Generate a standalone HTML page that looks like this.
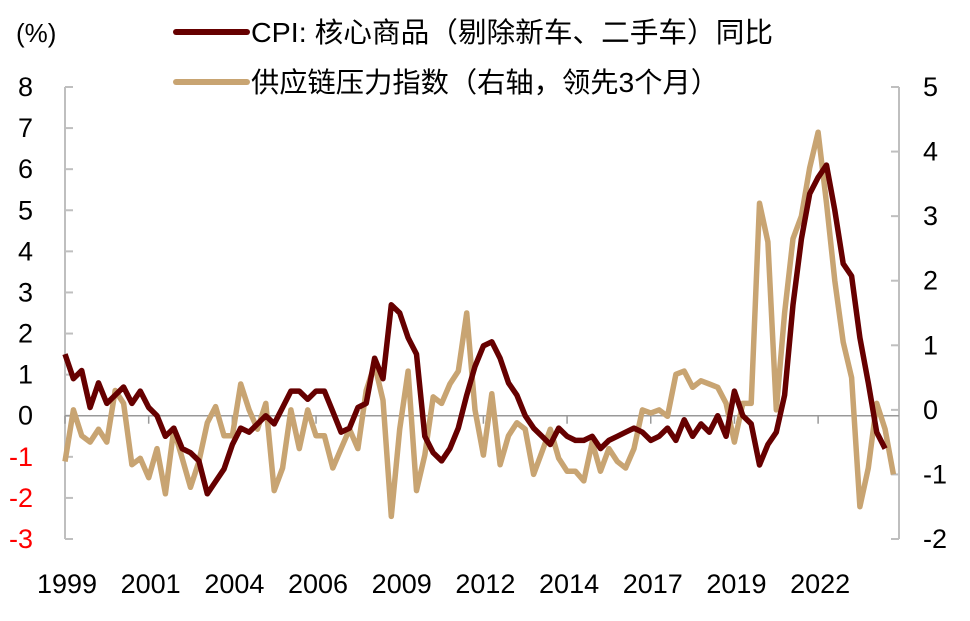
<!DOCTYPE html>
<html><head><meta charset="utf-8"><style>
body{margin:0;background:#fff;}
svg text{font-family:"Liberation Sans","Noto Sans CJK SC",sans-serif;}
</style></head><body>
<svg id="chart" width="970" height="616" viewBox="0 0 970 616" xmlns="http://www.w3.org/2000/svg">
<g id="axes"></g>
<g id="series"></g>
<g>
<text x="16" y="42" font-size="26">(%)</text>
<line x1="176" y1="32" x2="247" y2="32" stroke="#660000" stroke-width="6" stroke-linecap="round"/>
<text x="251" y="42" font-size="28" textLength="522" lengthAdjust="spacingAndGlyphs">CPI: 核心商品（剔除新车、二手车）同比</text>
<line x1="176" y1="82" x2="247" y2="82" stroke="#c8a472" stroke-width="6" stroke-linecap="round"/>
<text x="251" y="92" font-size="28" textLength="468" lengthAdjust="spacingAndGlyphs">供应链压力指数（右轴，领先3个月）</text>
</g>
</svg>
<script>
const cpiValues=[1.5,0.9,1.1,0.2,0.8,0.3,0.5,0.7,0.3,0.6,0.2,0.0,-0.5,-0.3,-0.8,-0.9,-1.1,-1.9,-1.6,-1.3,-0.7,-0.3,-0.4,-0.2,0.0,-0.2,0.2,0.6,0.6,0.4,0.6,0.6,0.1,-0.4,-0.3,0.2,0.3,1.4,0.9,2.7,2.5,1.9,1.5,-0.5,-0.9,-1.1,-0.8,-0.3,0.5,1.2,1.7,1.8,1.4,0.8,0.5,0.0,-0.3,-0.5,-0.7,-0.3,-0.5,-0.6,-0.6,-0.5,-0.8,-0.6,-0.5,-0.4,-0.3,-0.4,-0.6,-0.5,-0.3,-0.6,-0.1,-0.5,-0.2,-0.4,0.0,-0.5,0.6,0.0,-0.2,-1.2,-0.7,-0.4,0.5,2.7,4.3,5.4,5.8,6.1,5.0,3.7,3.4,1.9,0.8,-0.4,-0.8];
const gscpiValues=[-0.8,0.0,-0.4,-0.5,-0.3,-0.5,0.3,0.1,-0.85,-0.75,-1.05,-0.6,-1.3,-0.3,-0.75,-1.2,-0.8,-0.2,0.05,-0.4,-0.4,0.4,0.0,-0.3,0.1,-1.25,-0.9,0.0,-0.6,0.0,-0.4,-0.4,-0.9,-0.6,-0.3,-0.6,0.3,0.7,0.15,-1.65,-0.3,0.6,-1.25,-0.7,0.2,0.1,0.4,0.6,1.5,0.0,-0.7,0.25,-0.85,-0.4,-0.2,-0.3,-1.0,-0.65,-0.3,-0.75,-0.95,-0.95,-1.1,-0.5,-0.95,-0.6,-0.8,-0.9,-0.6,0.0,-0.05,0.0,-0.1,0.55,0.6,0.35,0.45,0.4,0.35,0.1,-0.5,0.1,0.1,3.2,2.6,0.0,1.5,2.65,3.0,3.75,4.3,3.2,2.0,1.05,0.5,-1.5,-0.9,0.1,-0.3,-1.0];
const leftTicks=[8,7,6,5,4,3,2,1,0,-1,-2,-3];
const rightTicks=[5,4,3,2,1,0,-1,-2];
const xTickLabels=["1999","2001","2004","2006","2009","2012","2014","2017","2019","2022"];
const monthsPerPoint=3;
const monthsPerXTick=30;

const X0=65,X1=899,TOTALM=299,TOP=87,BOT=539;
function xM(m){return X0+m*(X1-X0)/TOTALM;}
function yL(v){return TOP+(8-v)*(BOT-TOP)/11;}
function yR(v){return TOP+(5-v)*(BOT-TOP)/7;}
const NS="http://www.w3.org/2000/svg";
const axes=document.getElementById('axes'),series=document.getElementById('series');
function mk(tag,attrs,parent){const e=document.createElementNS(NS,tag);for(const k in attrs)e.setAttribute(k,attrs[k]);parent.appendChild(e);return e;}
let e;
e=mk('line',{x1:X0,y1:TOP,x2:X0,y2:BOT,stroke:'#bfbfbf','stroke-width':2},axes);


e=mk('line',{x1:X1,y1:TOP,x2:X1,y2:BOT,stroke:'#bfbfbf','stroke-width':2},axes);


leftTicks.forEach(v=>{
  const y=yL(v);
  let t=mk('line',{x1:X0,y1:y,x2:X0+8,y2:y,stroke:'#bfbfbf','stroke-width':2},axes);
  
  
  let l=mk('text',{x:33,y:y+9,'font-size':27,'text-anchor':'end',fill:v<0?'#ff0000':'#000'},axes);
  l.textContent=v;
  
  
});
rightTicks.forEach(v=>{
  const y=yR(v);
  let t=mk('line',{x1:X1-8,y1:y,x2:X1,y2:y,stroke:'#bfbfbf','stroke-width':2},axes);
  
  
  let l=mk('text',{x:923,y:y+9,'font-size':27,fill:'#000'},axes);
  l.textContent=v;
  
  
});
const y0=yL(0);
e=mk('line',{x1:X0,y1:y0,x2:X1,y2:y0,stroke:'#999','stroke-width':1.5},axes);


xTickLabels.forEach((s,i)=>{
  const x=xM(i*monthsPerXTick);
  let t=mk('line',{x1:x,y1:y0,x2:x,y2:y0+8,stroke:'#999','stroke-width':1.5},axes);
  
  
  let l=mk('text',{x:x+2,y:593,'font-size':27,'text-anchor':'middle',fill:'#000'},axes);
  l.textContent=s;
  
  
});
function pathFor(vals,yf){return vals.map((v,i)=>(i?'L':'M')+xM(i*monthsPerPoint).toFixed(1)+','+yf(v).toFixed(1)).join(' ');}
e=mk('path',{d:pathFor(gscpiValues,yR),fill:'none',stroke:'#c8a472','stroke-width':5.5,'stroke-linejoin':'round'},series);


e=mk('path',{d:pathFor(cpiValues,yL),fill:'none',stroke:'#660000','stroke-width':5.5,'stroke-linejoin':'round'},series);


</script>
</body></html>
